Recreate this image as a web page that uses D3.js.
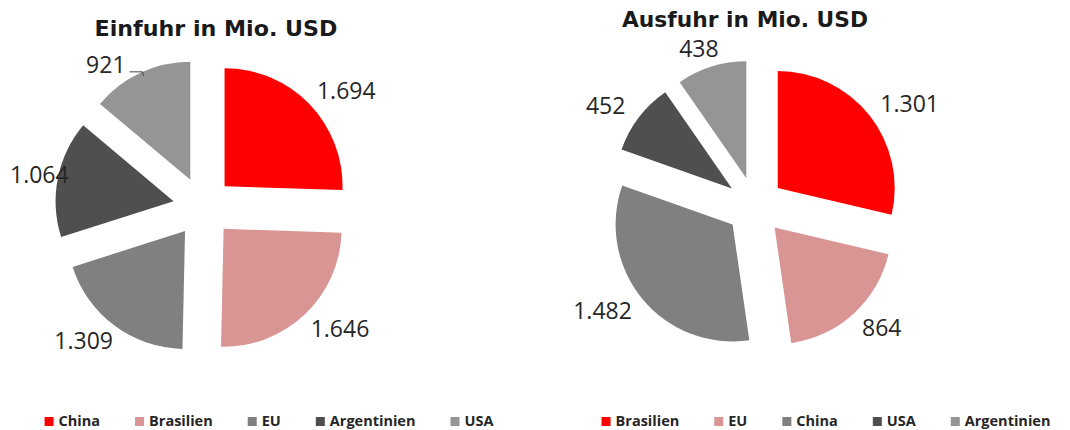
<!DOCTYPE html>
<html><head><meta charset="utf-8">
<script src="https://cdn.jsdelivr.net/npm/d3@7"></script>
<style>
html,body{margin:0;padding:0;background:#fff;}
svg{display:block;}
</style>
</head><body>
<svg id="chart" width="1070" height="430"></svg>
<script>
// ---- data ----
const importTitle = "Einfuhr in Mio. USD";
const importCategories = ["China", "Brasilien", "EU", "Argentinien", "USA"];
const importValues = [1694, 1646, 1309, 1064, 921];

const exportTitle = "Ausfuhr in Mio. USD";
const exportCategories = ["Brasilien", "EU", "China", "USA", "Argentinien"];
const exportValues = [1301, 864, 1482, 452, 438];

// ---- styles / layout ----
const sliceColors = ["#FF0000", "#D99594", "#808080", "#4F4F4F", "#959595"];
// one label in the import pie was moved by hand in the original (it carries a leader line)
const importLabelShift = {USA: [-17, 9]};
const W = 1070, H = 430;
const svg = d3.select("#chart");
const de = d3.formatLocale({decimal: ",", thousands: ".", grouping: [3], currency: ["", " €"]});
const fmt = de.format(",d");

function drawPie(cfg) {
  const {categories, values, title, cx, cy, r, explode, titleX, titleY, titleLen, legendCx, shift} = cfg;
  const g = svg.append("g");
  const color = d3.scaleOrdinal().domain(categories).range(sliceColors);
  const pie = d3.pie().sort(null).value(d => d.value);
  const arcs = pie(categories.map((c, i) => ({cat: c, value: values[i]})));
  const arc = d3.arc().innerRadius(0).outerRadius(r);
  const mid = d => (d.startAngle + d.endAngle) / 2;

  // slices
  g.selectAll("path.slice").data(arcs).join("path")
    .attr("class", "slice")
    .attr("d", arc)
    .attr("fill", d => color(d.data.cat))
    .attr("transform", d => {
      const a = mid(d);
      return `translate(${cx + explode * Math.sin(a)},${cy - explode * Math.cos(a)})`;
    });

  // labels
  const Rx = r + explode + 22, Ry = r + explode + 10;
  arcs.forEach(d => {
    const a = mid(d), s = Math.sin(a), c = -Math.cos(a);
    const t = g.append("text")
      .attr("font-family", "'Open Sans', sans-serif")
      .attr("font-size", 23)
      .attr("fill", "#262626")
      .attr("text-anchor", "middle")
      .attr("dy", "0.36em")
      .text(fmt(d.data.value));
    const w = t.node().getComputedTextLength();
    const h = 18;
    let x = cx + Rx * s + (w / 2) * s;
    let y = cy + Ry * c + (h / 2) * c;
    x = Math.max(10 + w / 2, Math.min(W - 10 - w / 2, x));
    const sh = shift && shift[d.data.cat];
    if (sh) { x += sh[0]; y += sh[1]; }
    t.attr("x", x).attr("y", y);
    // leader line for a label that was moved away from its slice
    if (sh) {
      const ax = cx + (explode + r) * s, ay = cy + (explode + r) * c;
      const bx0 = x - w / 2, bx1 = x + w / 2, by0 = y - h / 2, by1 = y + h / 2;
      const right = ax > bx1;
      const sx = right ? bx1 + 4 : bx0 - 4;
      const sy = Math.min(Math.max(ay - 1, by0), by1);
      const ex = right ? ax + 2 : ax - 2;
      g.append("path")
        .attr("d", `M${sx},${sy}H${ex}L${ex + (right ? 1 : -1)},${sy + 4}`)
        .attr("fill", "none").attr("stroke", "#404040").attr("stroke-width", 1);
    }
  });

  // title
  g.append("text")
    .attr("x", titleX).attr("y", titleY)
    .attr("text-anchor", "middle")
    .attr("font-family", "'DejaVu Sans', sans-serif")
    .attr("font-weight", "bold")
    .attr("font-size", 22)
    .attr("fill", "#1a1a1a")
    .attr("textLength", titleLen)
    .attr("lengthAdjust", "spacingAndGlyphs")
    .text(title);

  // legend
  const lg = g.append("g");
  const items = categories.map(cat => {
    const it = lg.append("g");
    it.append("rect").attr("width", 9).attr("height", 9).attr("y", 417).attr("fill", color(cat));
    const tx = it.append("text").attr("x", 14).attr("y", 426)
      .attr("font-family", "'Open Sans', sans-serif")
      .attr("font-weight", "bold").attr("font-size", 14.5)
      .attr("fill", "#262626").text(cat);
    return {it, w: 14 + tx.node().getComputedTextLength()};
  });
  const gap = 35;
  const total = d3.sum(items, d => d.w) + gap * (items.length - 1);
  let xpos = legendCx - total / 2;
  items.forEach(d => { d.it.attr("transform", `translate(${xpos},0)`); xpos += d.w + gap; });
}

drawPie({categories: importCategories, values: importValues, title: importTitle,
  cx: 203, cy: 207, r: 118, explode: 30, titleX: 216, titleY: 36, titleLen: 243, legendCx: 269,
  shift: importLabelShift});
drawPie({categories: exportCategories, values: exportValues, title: exportTitle,
  cx: 755, cy: 206, r: 117, explode: 29, titleX: 745, titleY: 27, titleLen: 246, legendCx: 826});
</script>
</body></html>
